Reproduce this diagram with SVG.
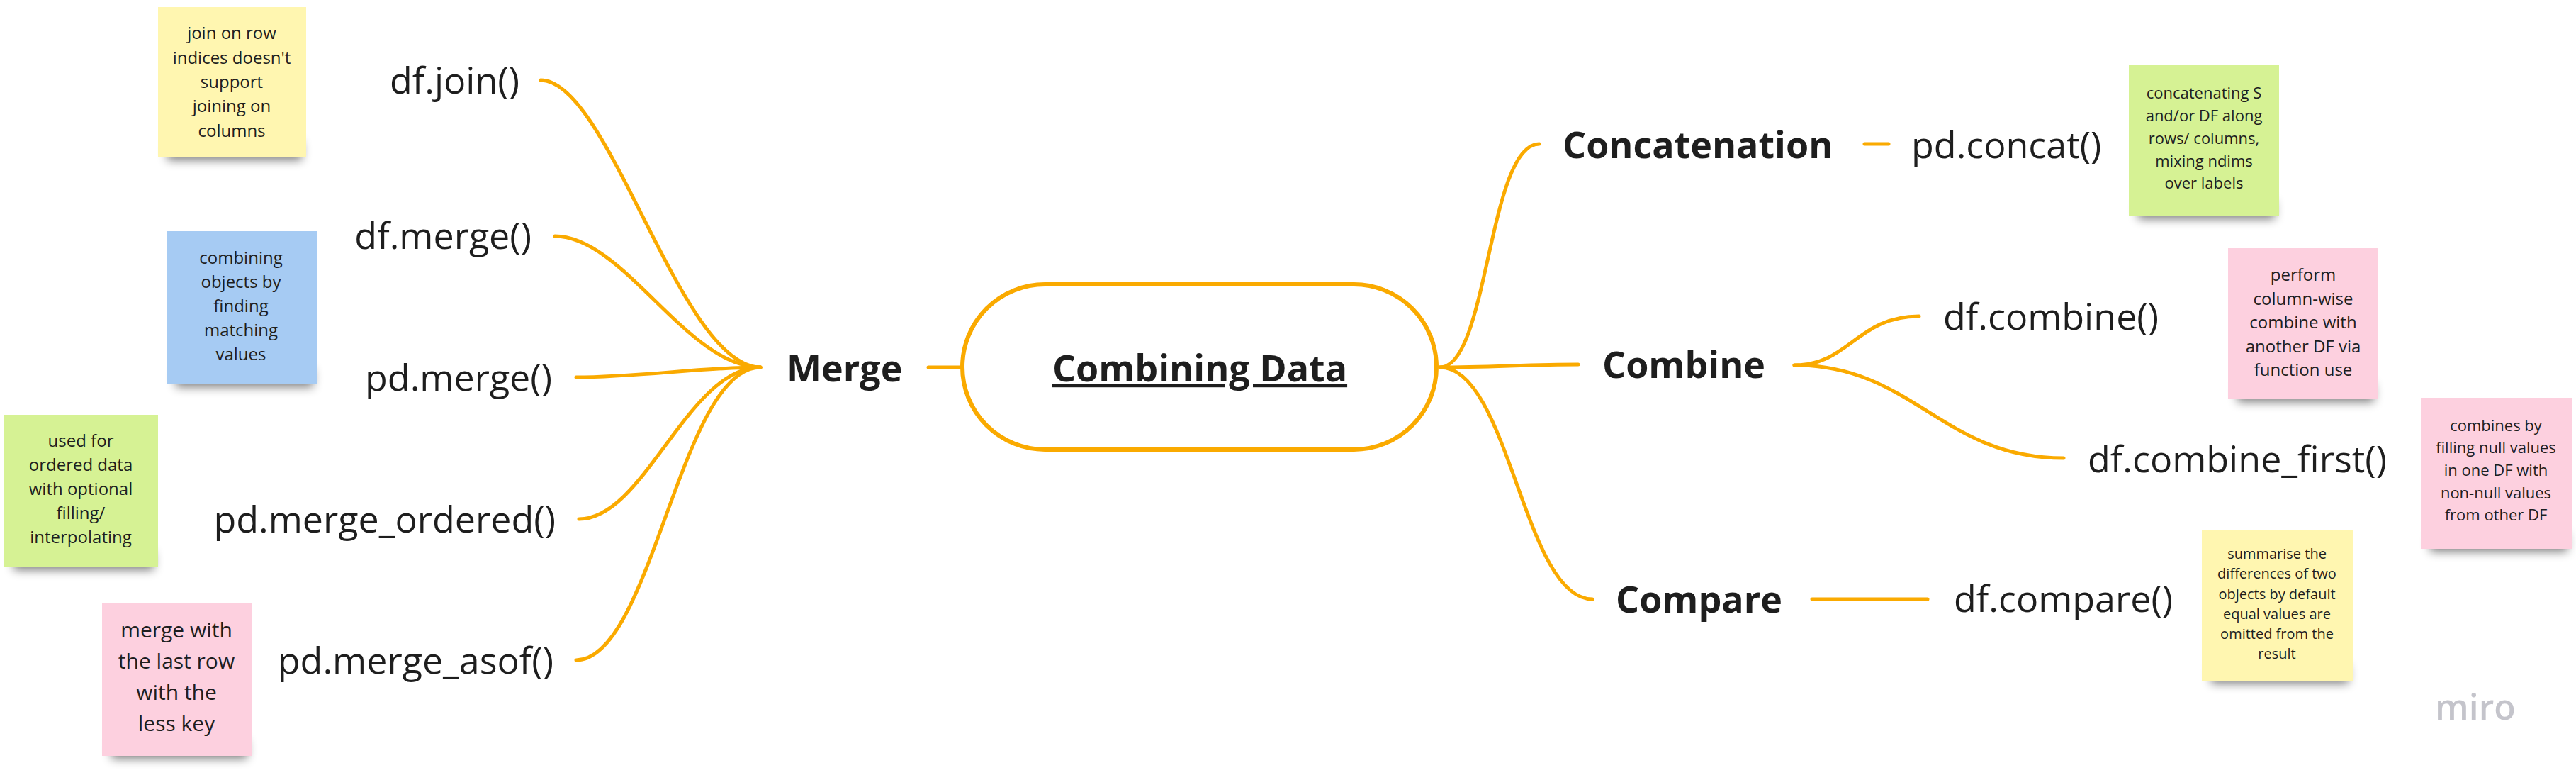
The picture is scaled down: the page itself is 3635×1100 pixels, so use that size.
<svg xmlns="http://www.w3.org/2000/svg" width="3635" height="1100" viewBox="0 0 3635 1100">
<defs>
<filter id="blur" x="-20%" y="-100%" width="140%" height="300%"><feGaussianBlur stdDeviation="7"/></filter>
</defs>
<style>
.t{font-family:'Open Sans','Liberation Sans',sans-serif;fill:#1e1e1e}
.child{font-size:52px}
.bold{font-size:52px;font-weight:700}
.nt{font-family:'Open Sans','Liberation Sans',sans-serif;fill:#1e1e1e;text-anchor:middle}
.edge{fill:none;stroke:#FAAA00;stroke-width:5;stroke-linecap:round}
.shadow{fill:#000;opacity:0.5;filter:url(#blur)}
.yellow{fill:#FFF6B0}
.blue{fill:#A6CBF3}
.green{fill:#D6F294}
.pink{fill:#FDD0DF}
</style>
<rect width="3635" height="1100" fill="#ffffff"/>

<g id="connectors">
<path class="edge" d="M763,113 C860,113 960,518 1073,518"/>
<path class="edge" d="M783,333 C880,333 970,518 1073,518"/>
<path class="edge" d="M813,532 C900,532 990,518 1073,518"/>
<path class="edge" d="M817,732 C910,732 970,518 1073,518"/>
<path class="edge" d="M813,931 C920,931 960,518 1073,518"/>
<path class="edge" d="M1310,518 L1355,518"/>
<path class="edge" d="M2032,518 C2100,518 2100,203 2172,203"/>
<path class="edge" d="M2032,518 C2100,518 2160,514 2227,514"/>
<path class="edge" d="M2032,518 C2130,518 2150,845 2247,845"/>
<path class="edge" d="M2631,203 L2665,203"/>
<path class="edge" d="M2532,515 C2610,515 2620,446 2708,446"/>
<path class="edge" d="M2532,515 C2700,515 2740,646 2912,646"/>
<path class="edge" d="M2557,845 L2720,845"/>
</g>

<g id="root">
<rect x="1358" y="401" width="669" height="233" rx="116.5" fill="#ffffff" stroke="#FAAA00" stroke-width="6"/>
<text class="t bold" x="1693" y="538" text-anchor="middle" text-decoration="underline">Combining Data</text>
</g>

<g id="merge"><text class="t bold" x="1110" y="538">Merge</text></g>
<g id="concatenation"><text class="t bold" x="2205" y="223">Concatenation</text></g>
<g id="combine"><text class="t bold" x="2261" y="533">Combine</text></g>
<g id="compare"><text class="t bold" x="2280" y="864">Compare</text></g>

<g id="df-join"><text class="t child" x="733" y="132" text-anchor="end">df.join()</text></g>
<g id="df-merge"><text class="t child" x="750" y="351" text-anchor="end">df.merge()</text></g>
<g id="pd-merge"><text class="t child" x="779" y="551" text-anchor="end">pd.merge()</text></g>
<g id="pd-merge-ordered"><text class="t child" x="784" y="751" text-anchor="end">pd.merge_ordered()</text></g>
<g id="pd-merge-asof"><text class="t child" x="781" y="950" text-anchor="end">pd.merge_asof()</text></g>
<g id="pd-concat"><text class="t child" x="2697" y="223">pd.concat()</text></g>
<g id="df-combine"><text class="t child" x="2742" y="465">df.combine()</text></g>
<g id="df-combine-first"><text class="t child" x="2946" y="666">df.combine_first()</text></g>
<g id="df-compare"><text class="t child" x="2757" y="863">df.compare()</text></g>

<g id="note-join">
<rect class="shadow" x="236" y="200" width="190" height="26"/>
<rect class="yellow" x="223" y="10" width="209" height="212"/>
<text class="nt" font-size="24"><tspan x="327" y="55">join on row</tspan><tspan x="327" y="90">indices doesn't</tspan><tspan x="327" y="124">support</tspan><tspan x="327" y="158">joining on</tspan><tspan x="327" y="193">columns</tspan></text>
</g>
<g id="note-merge">
<rect class="shadow" x="248" y="520" width="194" height="26"/>
<rect class="blue" x="235" y="326" width="213" height="216"/>
<text class="nt" font-size="24"><tspan x="340" y="372">combining</tspan><tspan x="340" y="406">objects by</tspan><tspan x="340" y="440">finding</tspan><tspan x="340" y="474">matching</tspan><tspan x="340" y="508">values</tspan></text>
</g>
<g id="note-ordered">
<rect class="shadow" x="19" y="778" width="198" height="26"/>
<rect class="green" x="6" y="585" width="217" height="215"/>
<text class="nt" font-size="24"><tspan x="114" y="630">used for</tspan><tspan x="114" y="664">ordered data</tspan><tspan x="114" y="698">with optional</tspan><tspan x="114" y="732">filling/</tspan><tspan x="114" y="766">interpolating</tspan></text>
</g>
<g id="note-asof">
<rect class="shadow" x="157" y="1044" width="192" height="26"/>
<rect class="pink" x="144" y="851" width="211" height="215"/>
<text class="nt" font-size="30"><tspan x="249" y="899">merge with</tspan><tspan x="249" y="943">the last row</tspan><tspan x="249" y="987">with the</tspan><tspan x="249" y="1031">less key</tspan></text>
</g>
<g id="note-concat">
<rect class="shadow" x="3017" y="283" width="193" height="26"/>
<rect class="green" x="3004" y="91" width="212" height="214"/>
<text class="nt" font-size="22"><tspan x="3110" y="139">concatenating S</tspan><tspan x="3110" y="171">and/or DF along</tspan><tspan x="3110" y="203">rows/ columns,</tspan><tspan x="3110" y="235">mixing ndims</tspan><tspan x="3110" y="266">over labels</tspan></text>
</g>
<g id="note-combine">
<rect class="shadow" x="3157" y="541" width="193" height="26"/>
<rect class="pink" x="3144" y="350" width="212" height="213"/>
<text class="nt" font-size="24"><tspan x="3250" y="396">perform</tspan><tspan x="3250" y="430">column-wise</tspan><tspan x="3250" y="463">combine with</tspan><tspan x="3250" y="497">another DF via</tspan><tspan x="3250" y="530">function use</tspan></text>
</g>
<g id="note-combine-first">
<rect class="shadow" x="3429" y="752" width="194" height="26"/>
<rect class="pink" x="3416" y="561" width="213" height="213"/>
<text class="nt" font-size="22"><tspan x="3522" y="608">combines by</tspan><tspan x="3522" y="639">filling null values</tspan><tspan x="3522" y="671">in one DF with</tspan><tspan x="3522" y="703">non-null values</tspan><tspan x="3522" y="734">from other DF</tspan></text>
</g>
<g id="note-compare">
<rect class="shadow" x="3120" y="938" width="194" height="26"/>
<rect class="yellow" x="3107" y="748" width="213" height="212"/>
<text class="nt" font-size="20"><tspan x="3213" y="788">summarise the</tspan><tspan x="3213" y="816">differences of two</tspan><tspan x="3213" y="845">objects by default</tspan><tspan x="3213" y="873">equal values are</tspan><tspan x="3213" y="901">omitted from the</tspan><tspan x="3213" y="929">result</tspan></text>
</g>

<text x="3436" y="1015" font-family="'Open Sans','Liberation Sans',sans-serif" font-size="50" font-weight="600" fill="#c4c4cb">miro</text>
</svg>
